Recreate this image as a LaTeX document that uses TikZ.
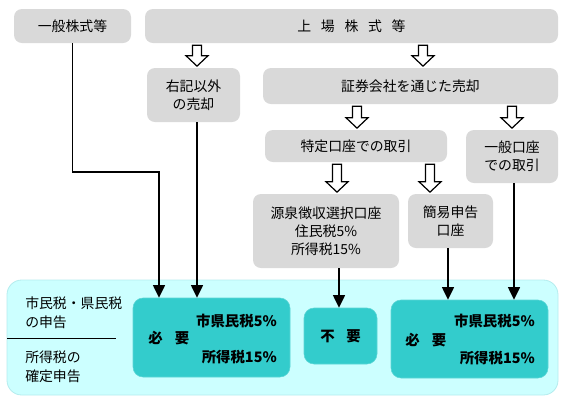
\documentclass[tikz,border=0pt]{standalone}
\usepackage{fontspec}
\setmainfont{Noto Sans CJK JP}
\usetikzlibrary{arrows.meta,calc}
\definecolor{boxgray}{HTML}{D9D9D9}
\definecolor{zonecyan}{HTML}{CCFFFF}
\definecolor{zoneedge}{HTML}{B4ECEE}
\definecolor{tealbox}{HTML}{33CCCC}
\newcommand{\blockdown}[3]{%
  \draw[blk] let \p1=(#1.south -| #3), \p2=(#2.north -| #3) in
  (\x1-3.4pt,\y1-1.5pt) -- (\x1+3.4pt,\y1-1.5pt) -- (\x1+3.4pt,\y2+9pt) --
  (\x1+8.25pt,\y2+9pt) -- (\x1,\y2+1.2pt) -- (\x1-8.25pt,\y2+9pt) --
  (\x1-3.4pt,\y2+9pt) -- cycle;}
\begin{document}
\begin{tikzpicture}[x=0.75pt,y=-0.75pt,
  gbox/.style={fill=boxgray, rounded corners=6pt, inner sep=0pt, align=center,
    font=\fontsize{10.4}{13.6}\selectfont},
  tbox/.style={fill=tealbox, draw=tealbox!80!white, line width=0.4pt, rounded corners=7.5pt, inner sep=0pt,
    font=\bfseries\fontsize{10.8}{12}\selectfont},
  tlabel/.style={inner sep=0pt, font=\bfseries\fontsize{10.8}{12}\selectfont},
  sidelabel/.style={inner sep=0pt, anchor=west, align=left, font=\fontsize{10.4}{14.25}\selectfont},
  larr/.style={line width=1.1pt, -{Triangle[width=9pt,length=9.5pt]}},
  blk/.style={draw=black, line width=0.9pt, fill=white, line join=miter}]
\useasboundingbox (0,0) rectangle (564,401);

% grey boxes
\node[gbox, minimum width=87.75pt, minimum height=25.5pt] (gen) at (72.5,26) {一般株式等};
\node[gbox, minimum width=309.75pt, minimum height=25.5pt] (jojo) at (351.5,26)
  {上\hspace{0.7em}場\hspace{0.7em}株\hspace{0.7em}式\hspace{0.7em}等};
\node[gbox, minimum width=69.75pt, minimum height=40.5pt] (uki) at (193.5,95) {右記以外\\の売却};
\node[gbox, minimum width=221.25pt, minimum height=27pt] (sho) at (410.5,86) {証券会社を通じた売却};
\node[gbox, minimum width=136.5pt, minimum height=24pt] (toku) at (356,146) {特定口座での取引};
\node[gbox, minimum width=69pt, minimum height=39.75pt] (ippan) at (512,156.5) {一般口座\\での取引};
\node[gbox, minimum width=109.5pt, minimum height=55.5pt] (gen2) at (326,231)
  {源泉徴収選択口座\\住民税5\%\\所得税15\%};
\node[gbox, minimum width=63.75pt, minimum height=40.5pt] (kan) at (450.5,221) {簡易申告\\口座};

% bottom zone
\node[fill=zonecyan, draw=zoneedge, line width=0.6pt, rounded corners=11pt, inner sep=0pt,
  minimum width=413.25pt, minimum height=86.25pt] (zone) at (282.5,337.5) {};
\node[sidelabel] (lab1) at (25,312.5) {市民税・県民税\\の申告};
\node[sidelabel] (lab2) at (25,366.5) {所得税の\\確定申告};
\coordinate (s1) at (7,338);
\coordinate (s2) at (116,338);
\draw[line width=0.75pt] (s1) -- (s2);

% teal boxes
\node[tbox, minimum width=117.75pt, minimum height=59.25pt] (hitsu1) at (211.5,337.5) {};
\node[tbox, minimum width=54.75pt, minimum height=42pt] (fuyo) at (340.5,336) {不\hspace{0.8em}要};
\node[tbox, minimum width=117.75pt, minimum height=58.5pt] (hitsu2) at (469.5,339) {};
\node[tlabel, anchor=east] (h1a) at (277,321) {市県民税5\%};
\node[tlabel, anchor=west] (h1b) at (148,338) {必\hspace{0.85em}要};
\node[tlabel, anchor=east] (h1c) at (277,357) {所得税15\%};
\node[tlabel, anchor=east] (h2a) at (535,321) {市県民税5\%};
\node[tlabel, anchor=west] (h2b) at (405,340) {必\hspace{0.85em}要};
\node[tlabel, anchor=east] (h2c) at (535,358) {所得税15\%};

% block arrows
\coordinate (b1) at (197,0);
\coordinate (b2) at (423,0);
\coordinate (b3) at (357,0);
\coordinate (b4) at (512,0);
\coordinate (b5) at (337,0);
\coordinate (b6) at (430,0);
\blockdown{jojo}{uki}{b1}
\blockdown{jojo}{sho}{b2}
\blockdown{sho}{toku}{b3}
\blockdown{sho}{ippan}{b4}
\blockdown{toku}{gen2}{b5}
\blockdown{toku}{kan}{b6}

% line arrows
\coordinate (c1) at (159,172);
\coordinate (x2) at (197,0);
\coordinate (x3) at (339,0);
\coordinate (x4) at (448,0);
\coordinate (x5) at (514,0);
\draw[larr] (gen.south) |- (c1) -- (c1 |- hitsu1.north);
\draw[larr] (uki.south -| x2) -- (hitsu1.north -| x2);
\draw[larr] (gen2.south -| x3) -- (fuyo.north -| x3);
\draw[larr] (kan.south -| x4) -- (hitsu2.north -| x4);
\draw[larr] (ippan.south -| x5) -- (hitsu2.north -| x5);
\end{tikzpicture}
\end{document}
